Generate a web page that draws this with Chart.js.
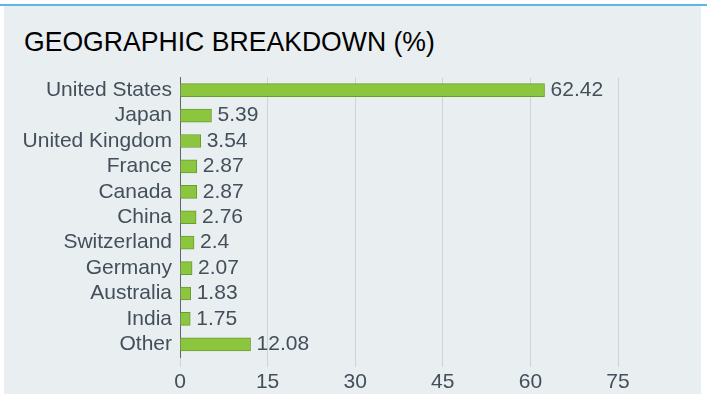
<!DOCTYPE html>
<html>
<head>
<meta charset="utf-8">
<script src="https://cdn.jsdelivr.net/npm/chart.js@4"></script>
<style>
  html, body { margin: 0; padding: 0; background: #ffffff; }
  #wrap { position: relative; width: 707px; height: 405px; overflow: hidden; }
  #topline { position: absolute; left: 0; top: 4px; width: 707px; height: 2px; background: #5cb6e6; }
  #panel { position: absolute; left: 4px; top: 6px; width: 697px; height: 388px; background: #e9eef1; }
  #title { position: absolute; left: 24px; top: 28px; font: 28px "Liberation Sans", Arial, sans-serif; line-height: 28px; color: #000;
           white-space: nowrap; transform: scaleX(0.95); transform-origin: left top; }
  #chart { position: absolute; left: 0; top: 0; }
</style>
</head>
<body>
<div id="wrap">
  <div id="topline"></div>
  <div id="panel"></div>
  <div id="title">GEOGRAPHIC BREAKDOWN (%)</div>
  <canvas id="chart" width="707" height="405"></canvas>
</div>
<script>
// Maat ja osuudet (%)
const countries = ['United States', 'Japan', 'United Kingdom', 'France', 'Canada', 'China',
                   'Switzerland', 'Germany', 'Australia', 'India', 'Other'];
const shares = [62.42, 5.39, 3.54, 2.87, 2.87, 2.76, 2.4, 2.07, 1.83, 1.75, 12.08];
const xTicks = [0, 15, 30, 45, 60, 75];

const textColor = '#434f5a';
const font = "'Liberation Sans', Arial, sans-serif";

// Arvot palkkien perään
const valueLabels = {
    id: 'valueLabels',
    afterDatasetsDraw(chart) {
        const ctx = chart.ctx;
        const meta = chart.getDatasetMeta(0);
        ctx.save();
        ctx.font = '21px ' + font;
        ctx.fillStyle = textColor;
        ctx.textAlign = 'left';
        ctx.textBaseline = 'middle';
        meta.data.forEach((bar, i) => {
            ctx.fillText(String(shares[i]), bar.x + 6, bar.y);
        });
        ctx.restore();
    }
};

const ctx = document.getElementById('chart').getContext('2d');
new Chart(ctx, {
    type: 'bar',
    data: {
        labels: countries,
        datasets: [{
            data: shares,
            backgroundColor: '#8cc63f',
            borderColor: '#6c9c31',
            borderWidth: 1,
            barThickness: 13
        }]
    },
    options: {
        indexAxis: 'y',
        responsive: false,
        animation: false,
        layout: { padding: { top: 77.5, right: 89, left: 0, bottom: 0 } },
        plugins: {
            legend: { display: false },
            tooltip: { enabled: false }
        },
        scales: {
            x: {
                min: 0,
                max: 75,
                afterBuildTicks: scale => { scale.ticks = xTicks.map(v => ({ value: v })); },
                afterFit: scale => { scale.height = 48; },
                grid: { color: '#d0d2d4', tickLength: 10, drawOnChartArea: true },
                border: { display: false },
                ticks: { color: textColor, font: { family: font, size: 21 }, padding: 3 }
            },
            y: {
                afterFit: scale => { scale.width = 180; },
                grid: { display: false },
                border: { color: '#5b6770', width: 1 },
                ticks: { color: textColor, font: { family: font, size: 21 }, padding: 0, autoSkip: false }
            }
        }
    },
    plugins: [valueLabels]
});
</script>
</body>
</html>
